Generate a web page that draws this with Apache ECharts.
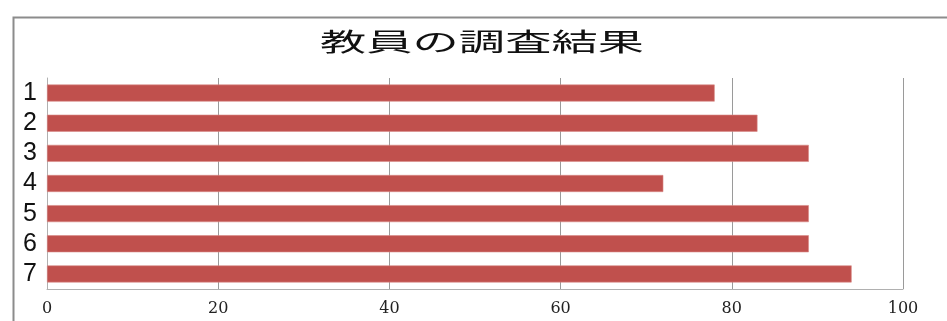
<!DOCTYPE html>
<html>
<head>
<meta charset="utf-8">
<script src="https://cdn.jsdelivr.net/npm/echarts@6/dist/echarts.min.js"></script>
<style>
html,body{margin:0;padding:0;background:#fff;}
#c{width:947px;height:321px;}
</style>
</head>
<body>
<div id="c"></div>
<script>
const titleText = '教員の調査結果';
const categories = ['1', '2', '3', '4', '5', '6', '7'];
const values = [78, 83, 89, 72, 89, 89, 94];
const xTicks = [0, 20, 40, 60, 80, 100];

const chart = echarts.init(document.getElementById('c'), null, {renderer: 'canvas'});
chart.setOption({
  animation: false,
  backgroundColor: '#ffffff',
  grid: {left: 47, right: 44, top: 78, bottom: 32, containLabel: false},
  graphic: [
    {type: 'rect', left: 11, top: 15, shape: {width: 1000, height: 400},
     style: {fill: 'none', stroke: '#8c8c8c', lineWidth: 2}, z: -1},
    {type: 'text', x: 482, y: 41, scaleX: 1.85, scaleY: 1,
     style: {text: titleText, font: 'normal 25px "Noto Sans CJK JP"', fill: '#111',
             align: 'center', verticalAlign: 'middle'}}
  ],
  xAxis: {
    type: 'value', min: xTicks[0], max: xTicks[xTicks.length - 1], interval: 20,
    axisLine: {show: true, lineStyle: {color: '#b0b0b0', width: 1}},
    axisTick: {show: false},
    splitLine: {show: true, lineStyle: {color: '#9a9a9a', width: 1}},
    axisLabel: {margin: 12, color: '#222', fontFamily: 'DejaVu Serif', fontSize: 16}
  },
  yAxis: {
    type: 'category', data: categories, inverse: true,
    axisLine: {show: true, lineStyle: {color: '#b0b0b0', width: 1}},
    axisTick: {show: false},
    axisLabel: {interval: 0, margin: 10, color: '#111', fontFamily: 'Liberation Sans', fontSize: 25}
  },
  series: [{
    type: 'bar', data: values, barWidth: 17,
    itemStyle: {color: '#C0504D', borderColor: '#d98987', borderWidth: 0.6}
  }]
});
</script>
</body>
</html>
